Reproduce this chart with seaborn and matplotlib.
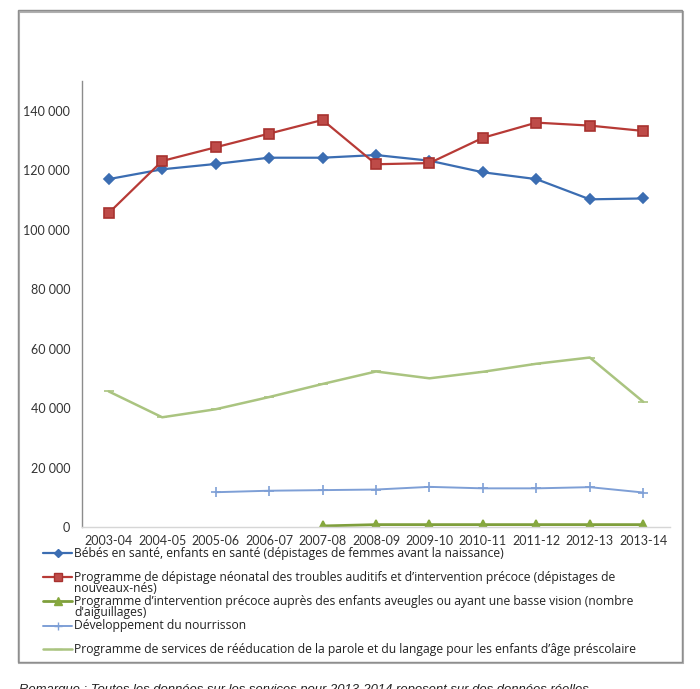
import numpy as np
import pandas as pd
import matplotlib
matplotlib.use("Agg")
import matplotlib.pyplot as plt
import seaborn as sns
from matplotlib.lines import Line2D
from matplotlib.patches import Rectangle
from matplotlib.ticker import FuncFormatter

nan = np.nan
years = ["2003-04", "2004-05", "2005-06", "2006-07", "2007-08", "2008-09",
         "2009-10", "2010-11", "2011-12", "2012-13", "2013-14"]
bebes = [117000, 120300, 122100, 124200, 124200, 125100, 123200, 119300, 117000, 110200, 110500]
depistage = [105600, 123100, 127700, 132300, 136900, 122000, 122400, 130900, 136000, 135000, 133200]
aveugles = [nan, nan, nan, nan, 350, 800, 800, 800, 800, 800, 800]
nourrisson = [nan, nan, 11700, 12200, 12400, 12600, 13500, 13000, 13000, 13400, 11600]
parole = [45600, 36900, 39600, 43700, 48100, 52300, 50000, 52200, 54900, 57000, 42100]

labels = [
    ["Bébés en santé, enfants en santé (dépistages de femmes avant la naissance)"],
    ["Programme de dépistage néonatal des troubles auditifs et d’intervention précoce (dépistages de",
     "nouveaux-nés)"],
    ["Programme d’intervention précoce auprès des enfants aveugles ou ayant une basse vision (nombre",
     "d'aiguillages)"],
    ["Développement du nourrisson"],
    ["Programme de services de rééducation de la parole et du langage pour les enfants d’âge préscolaire"],
]
note = "Remarque : Toutes les données sur les services pour 2013-2014 reposent sur des données réelles."

sns.set_theme(style="white")
plt.rcParams["font.family"] = ["Lato", "DejaVu Sans"]

W, H = 700, 689
fig = plt.figure(figsize=(W / 100, H / 100), dpi=100)
def fx(x): return x / W
def fy(y): return 1 - y / H

ax = fig.add_axes([fx(82), fy(527), fx(670) - fx(82), fy(81) - fy(527)])

idx = np.arange(len(years))
styles = [
    dict(data=bebes, color="#3B6DB2", marker="D", ms=5.2, lw=1.6, mfc="#3B6DB2", mec="#3B6DB2"),
    dict(data=depistage, color="#B73A36", marker="s", ms=7.5, lw=1.6, mfc="#BE4B48", mec="#A8322F"),
    dict(data=aveugles, color="#7F9F3C", marker="^", ms=7.5, lw=2.0, mfc="#86A83E", mec="#86A83E"),
    dict(data=nourrisson, color="#7E9FD6", marker="+", ms=7, lw=1.4, mfc="#7E9FD6", mec="#7E9FD6"),
    dict(data=parole, color="#AAC480", marker="_", ms=7, lw=1.8, mfc="#AAC480", mec="#AAC480"),
]
for s in styles:
    df = pd.DataFrame({"x": idx, "y": s["data"]})
    sns.lineplot(data=df, x="x", y="y", ax=ax, color=s["color"], marker=s["marker"],
                 markersize=s["ms"], linewidth=s["lw"], markerfacecolor=s["mfc"],
                 markeredgecolor=s["mec"], markeredgewidth=1.2, errorbar=None)

ax.set_xlim(-0.5, len(years) - 0.5)
ax.set_ylim(0, 150000)
ax.set_yticks(np.arange(0, 140001, 20000))
ax.yaxis.set_major_formatter(FuncFormatter(lambda v, p: f"{v:,.0f}".replace(",", " ")))
ax.set_xticks(idx)
ax.set_xticklabels(years)
ax.set_xlabel("")
ax.set_ylabel("")
ax.tick_params(axis="both", length=0, labelsize=9, colors="#333333")
ax.tick_params(axis="y", pad=8.5)
ax.tick_params(axis="x", pad=5.5)
for sp in ["top", "right"]:
    ax.spines[sp].set_visible(False)
ax.spines["left"].set_color("#8C8C8C")
ax.spines["left"].set_linewidth(1.0)
ax.spines["bottom"].set_color("#D6D6D6")
ax.spines["bottom"].set_linewidth(1.0)
ax.grid(False)

# legend (manual, below the plot)
rows = [553, 577, 601, 626, 649]
for s, lab, yrow in zip(styles, labels, rows):
    fig.add_artist(Line2D([fx(43), fx(72)], [fy(yrow), fy(yrow)], transform=fig.transFigure,
                          color=s["color"], lw=s["lw"]))
    fig.add_artist(Line2D([fx(57.5)], [fy(yrow)], transform=fig.transFigure,
                          color=s["color"], marker=s["marker"], ms=s["ms"] * 0.75,
                          mfc=s["mfc"], mec=s["mec"], mew=1.0, lw=0))
    for k, line in enumerate(lab):
        fig.text(fx(74), fy(yrow + 11.5 * k), line, fontsize=8.7, color="#222222",
                 ha="left", va="center", family=["Open Sans", "DejaVu Sans"])

# outer frame
fig.add_artist(Rectangle((fx(19), fy(663)), fx(683) - fx(19), fy(12) - fy(663),
                         transform=fig.transFigure, fill=False, ec="#B0B0B0", lw=1.5))
fig.add_artist(Rectangle((fx(18), fy(662)), fx(682) - fx(18), fy(10) - fy(662),
                         transform=fig.transFigure, fill=False, ec="#8E8E8E", lw=1.0))

fig.text(fx(19), fy(684), note, fontsize=9.4, style="italic", color="#222222",
         ha="left", va="top", family=["Liberation Sans", "DejaVu Sans"])

fig.savefig("out.png", dpi=100)
